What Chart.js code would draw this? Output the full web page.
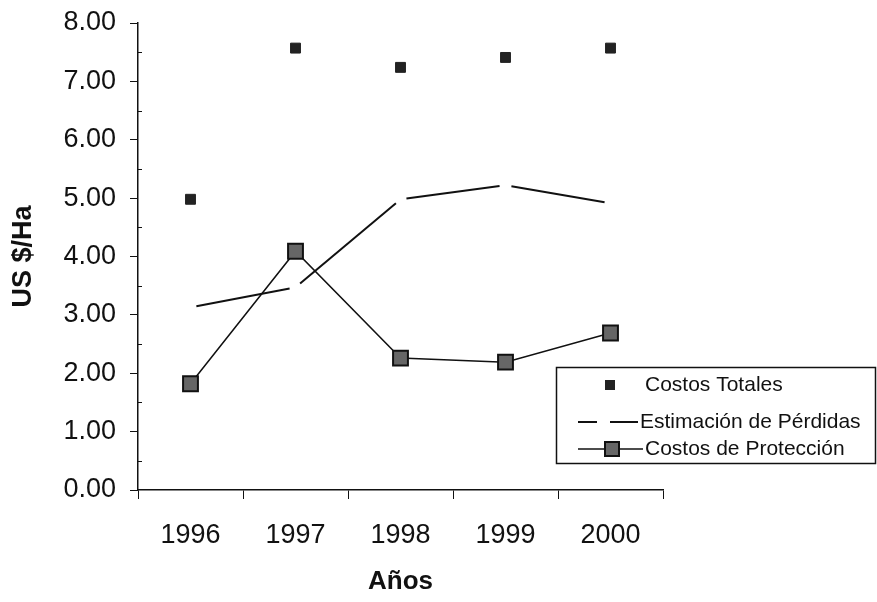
<!DOCTYPE html>
<html>
<head>
<meta charset="utf-8">
<style>
  body { margin: 0; background: #fff; }
  .wrap { position: relative; width: 877px; height: 602px; }
</style>
</head>
<body>
<div class="wrap"><canvas id="costChart"></canvas></div>
<script src="https://cdn.jsdelivr.net/npm/chart.js"></script>
<script>
  const years = ["1996", "1997", "1998", "1999", "2000"];
  const costosTotales = [4.98, 7.57, 7.24, 7.41, 7.57];
  const estimacionPerdidas = [3.13, 3.47, 4.98, 5.22, 4.91];
  const costosProteccion = [1.82, 4.09, 2.26, 2.19, 2.69];
  const seriesNames = ["Costos Totales", "Estimación de Pérdidas", "Costos de Protección"];

  const FONT = "'Liberation Sans', Arial, sans-serif";
  const INK = "#111";

  // dashed line with a short gap around every vertex
  const GAP = 6;
  const segLen = (c) => Math.hypot(c.p1.x - c.p0.x, c.p1.y - c.p0.y);

  // small inside ticks at the half values of the y axis + the legend box
  const extras = {
    id: "extras",
    afterDraw(chart) {
      const { ctx, chartArea } = chart;
      const y = chart.scales.y;
      ctx.save();
      ctx.strokeStyle = INK;
      ctx.lineWidth = 1;
      for (let v = 0.5; v < 8; v += 1) {
        const py = Math.round(y.getPixelForValue(v)) + 0.5;
        ctx.beginPath();
        ctx.moveTo(chartArea.left, py);
        ctx.lineTo(chartArea.left + 4, py);
        ctx.stroke();
      }

      // legend
      const bx = 556, by = 367, bw = 320, bh = 97;
      ctx.fillStyle = "#fff";
      ctx.fillRect(bx, by, bw, bh);
      ctx.lineWidth = 1.5;
      ctx.strokeRect(bx + 0.5, by + 0.5, bw - 1, bh - 1);
      ctx.font = "21px " + FONT;
      ctx.textBaseline = "middle";
      const rows = [385, 422, 449];
      // Costos Totales
      ctx.fillStyle = "#222";
      ctx.fillRect(605, rows[0] - 5, 10, 10);
      // Estimación
      ctx.lineWidth = 2;
      ctx.beginPath();
      ctx.moveTo(578, rows[1]); ctx.lineTo(597, rows[1]);
      ctx.moveTo(610, rows[1]); ctx.lineTo(638, rows[1]);
      ctx.stroke();
      // Protección
      ctx.lineWidth = 1.5;
      ctx.beginPath();
      ctx.moveTo(578, rows[2]); ctx.lineTo(643, rows[2]);
      ctx.stroke();
      ctx.fillStyle = "#666";
      ctx.fillRect(605, rows[2] - 7, 14, 14);
      ctx.lineWidth = 2;
      ctx.strokeRect(605, rows[2] - 7, 14, 14);
      ctx.fillStyle = INK;
      ctx.fillText(seriesNames[0], 645, rows[0]);
      ctx.fillText(seriesNames[1], 640, rows[1]);
      ctx.fillText(seriesNames[2], 645, rows[2]);
      ctx.restore();
    },
  };

  const ctx = document.getElementById("costChart").getContext("2d");
  const costChart = new Chart(ctx, {
    type: "line",
    data: {
      labels: years,
      datasets: [
        {
          label: seriesNames[0],
          data: costosTotales,
          showLine: false,
          pointStyle: "rect",
          pointRadius: 7,
          pointBackgroundColor: "#222",
          pointBorderColor: "#222",
          pointBorderWidth: 1,
        },
        {
          label: seriesNames[1],
          data: estimacionPerdidas,
          borderColor: INK,
          borderWidth: 2,
          pointRadius: 0,
          tension: 0,
          segment: {
            borderDash: (c) => [segLen(c) - 2 * GAP, 2 * GAP],
            borderDashOffset: (c) => segLen(c) - GAP,
          },
        },
        {
          label: seriesNames[2],
          data: costosProteccion,
          borderColor: INK,
          borderWidth: 1.5,
          pointStyle: "rect",
          pointRadius: 10.5,
          pointBackgroundColor: "#666",
          pointBorderColor: INK,
          pointBorderWidth: 2,
          tension: 0,
        },
      ],
    },
    options: {
      responsive: true,
      maintainAspectRatio: false,
      animation: false,
      layout: { padding: { top: 23, right: 214, left: 0, bottom: 0 } },
      plugins: {
        legend: { display: false },
        tooltip: { enabled: false },
      },
      scales: {
        x: {
          offset: true,
          grid: {
            drawOnChartArea: false,
            offset: true,
            tickLength: 9,
            color: INK,
            tickColor: INK,
          },
          border: { color: INK, width: 1.5 },
          ticks: {
            color: INK,
            padding: 20,
            font: { family: FONT, size: 27 },
          },
          title: {
            display: true,
            text: "Años",
            color: INK,
            padding: { top: 0, bottom: 5 },
            font: { family: FONT, size: 26, weight: "bold" },
          },
          afterFit(scale) {
            scale.height = 112;
            scale.paddingLeft = 0;
            scale.paddingRight = 0;
          },
        },
        y: {
          min: 0,
          max: 8,
          grid: {
            drawOnChartArea: false,
            tickLength: 8,
            color: INK,
            tickColor: INK,
          },
          border: { color: INK, width: 1.5 },
          ticks: {
            stepSize: 1,
            color: INK,
            padding: 14,
            font: { family: FONT, size: 27 },
            callback: (v) => Number(v).toFixed(2),
          },
          title: {
            display: true,
            text: "US $/Ha",
            color: INK,
            padding: { top: 7, bottom: 0 },
            font: { family: FONT, size: 27, weight: "bold" },
          },
          afterFit(scale) {
            scale.width = 138;
            scale.paddingTop = 0;
            scale.paddingBottom = 0;
          },
        },
      },
    },
    plugins: [extras],
  });
</script>
</body>
</html>
